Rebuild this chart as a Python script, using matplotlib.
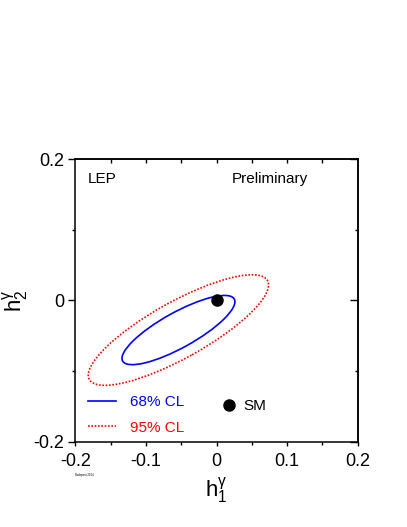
import matplotlib.pyplot as plt
from matplotlib.patches import Ellipse
from matplotlib.lines import Line2D

plt.rcParams['font.family'] = ['Liberation Sans', 'DejaVu Sans']
plt.rcParams['mathtext.fontset'] = 'custom'
plt.rcParams['mathtext.rm'] = 'Liberation Sans'

# fitted contour of (h1, h2): centre, full axis lengths, tilt (deg)
centre_h1 = -0.054
centre_h2 = -0.042
cl_labels = ['68% CL', '95% CL']
cl_widths = [0.181, 0.289]
cl_heights = [0.050, 0.080]
cl_angle = 29.0
cl_colors = ['blue', 'red']

# Standard Model expectation
sm_h1 = [0.0]
sm_h2 = [0.0]

fig = plt.figure(figsize=(4.07, 5.27), dpi=100)
ax = fig.add_axes([0.1855, 0.162, 0.693, 0.536])

handles = []
for lab, w, h, col, ls in zip(cl_labels, cl_widths, cl_heights, cl_colors,
                              ['-', (0, (1, 1))]):
    e = Ellipse((centre_h1, centre_h2), w, h, angle=cl_angle, fill=False,
                edgecolor=col, linewidth=1.2, linestyle=ls)
    ax.add_patch(e)
    handles.append(Line2D([], [], color=col, linewidth=1.2, linestyle=ls, label=lab))

ax.plot(sm_h1, sm_h2, 'o', color='black', markersize=8, zorder=5)

ax.set_xlim(-0.2, 0.2)
ax.set_ylim(-0.2, 0.2)

# legend for the contours
leg = ax.legend(handles=handles, loc='lower left', bbox_to_anchor=(0.045, 0.025),
                frameon=False, fontsize=11, handlelength=1.8, handletextpad=0.95,
                labelspacing=0.75, borderpad=0, borderaxespad=0)
for txt, col in zip(leg.get_texts(), cl_colors):
    txt.set_color(col)
ax.add_artist(leg)

sm_handle = Line2D([], [], marker='o', color='black', linestyle='none',
                   markersize=8, label='SM')
ax.legend(handles=[sm_handle], loc='lower left', bbox_to_anchor=(0.525, 0.1),
          frameon=False, fontsize=11, handlelength=0.7, handletextpad=0.6,
          borderpad=0, borderaxespad=0)

ax.text(0.045, 0.955, 'LEP', transform=ax.transAxes, fontsize=11, va='top')
ax.text(0.555, 0.955, 'Preliminary', transform=ax.transAxes, fontsize=11, va='top')

# ticks: outward on left/bottom, inward on right/top
ax.set_xticks([-0.2, -0.1, 0, 0.1, 0.2])
ax.set_xticklabels(['-0.2', '-0.1', '0', '0.1', '0.2'])
ax.set_xticks([-0.15, -0.05, 0.05, 0.15], minor=True)
ax.set_yticks([-0.2, 0, 0.2])
ax.set_yticklabels(['-0.2', '0', '0.2'])
ax.set_yticks([-0.1, 0.1], minor=True)
ax.tick_params(axis='both', which='both', labelsize=13, width=1, direction='out')
ax.tick_params(axis='y', which='major', length=5, pad=3)
ax.tick_params(axis='y', which='minor', length=2.5)
ax.tick_params(axis='x', which='major', length=3, pad=5)
ax.tick_params(axis='x', which='minor', length=2.5)

top = ax.secondary_xaxis('top')
top.set_xticks([-0.15, -0.1, -0.05, 0, 0.05, 0.1, 0.15])
top.tick_params(direction='in', length=3, width=1, labeltop=False)
top.spines['top'].set_linewidth(1.1)
right = ax.secondary_yaxis('right')
right.set_yticks([-0.2, 0, 0.2])
right.set_yticks([-0.1, 0.1], minor=True)
right.tick_params(which='major', direction='in', length=6, width=1, labelright=False)
right.tick_params(which='minor', direction='in', length=2.5, width=1)
right.spines['right'].set_linewidth(1.1)

for s in ax.spines.values():
    s.set_linewidth(1.1)

ax.set_xlabel(r'$\mathregular{h_1^{\gamma}}$', fontsize=16, labelpad=4)
ax.set_ylabel(r'$\mathregular{h_2^{\gamma}}$', fontsize=16, labelpad=1.5)

fig.text(0.207, 0.097, 'Budapest 2004', fontsize=2, ha='center')

fig.savefig('out.png', dpi=100)
